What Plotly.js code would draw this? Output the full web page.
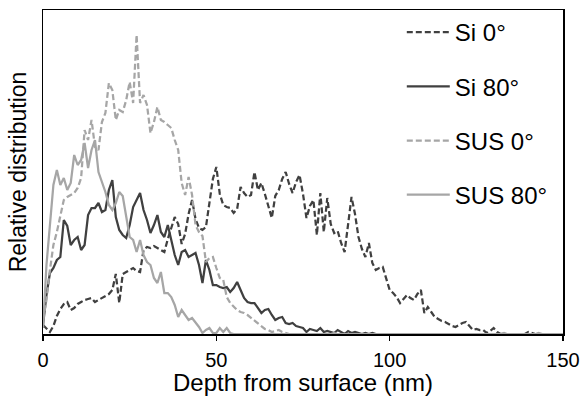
<!DOCTYPE html>
<html>
<head>
<meta charset="utf-8">
<script src="https://cdn.plot.ly/plotly-3.0.1.min.js"></script>
<style>html,body{margin:0;padding:0;background:#fff;}#chart{width:581px;height:396px;}</style>
</head>
<body>
<div id="chart"></div>
<script>
// Depth (nm), 1 nm steps
const depth = [];
for (let i = 0; i <= 150; i++) depth.push(i);

const seriesNames = ["Si 0°", "Si 80°", "SUS 0°", "SUS 80°"];

// Relative distribution (arbitrary units)
const si0 = [9,5,2,8,18,25,30,32,24,26,30,32,34,35,36,32,34,36,38,40,
  44,60,31,60,62,64,66,63,62,84,87,86,88,86,84,82,95,107,117,110,
  90,100,120,134,115,106,104,107,130,155,167,140,129,127,126,121,125,147,141,137,
  139,162,144,151,140,128,116,138,144,155,162,150,141,152,159,140,116,128,134,99,
  141,102,136,110,101,103,91,82,110,137,120,97,85,77,91,71,64,66,67,56,
  44,41,37,31,35,39,36,34,40,44,21,27,22,17,15,13,12,10,8,7,
  9,11,12,8,4,5,4,4,1,3,6,2,0,0,0,0,0,0,0,0,
  2,1,0,0,0,0,0,0,0,0,0];

const si80 = [9,39,61,66,74,77,114,108,89,94,97,84,89,119,126,126,131,122,124,144,
  154,117,104,99,96,109,127,134,141,124,114,101,109,119,102,97,109,94,79,69,
  82,84,77,79,81,69,51,74,64,49,49,47,46,47,42,46,52,44,36,32,
  31,31,26,21,24,25,19,14,16,17,11,10,11,8,7,6,2,5,4,3,
  6,2,3,2,1,4,2,0,3,1,2,1,0,1,0,1,0,0,0,0,
  0,0,0,0,0,0,0,0,0,0,0,0,0,0,0,0,0,0,0,0,
  0,0,0,0,0,0,0,0,0,0,0,0,0,0,0,0,0,0,0,0,
  0,0,0,0,0,0,0,0,0,0,0];

const sus0 = [14,34,64,89,102,119,134,137,139,141,146,156,204,194,214,187,184,212,221,251,
  244,214,224,222,234,252,231,299,231,239,229,201,212,227,214,212,209,206,194,184,
  151,139,157,139,109,102,98,72,76,77,66,56,54,37,31,27,24,22,21,19,
  16,13,11,8,5,4,2,3,4,2,1,0,0,0,0,0,0,0,0,0,
  0,0,0,0,1,0,0,0,0,0,0,0,0,0,0,0,0,0,0,0,
  0,0,0,0,0,0,0,0,0,0,0,0,0,0,0,0,0,0,0,0,
  0,0,0,0,0,0,0,0,0,0,0,0,0,1,0,0,0,0,0,0,
  0,0,0,1,0,0,0,0,0,0,0];

const sus80 = [6,69,109,149,164,149,156,144,151,179,169,174,191,166,184,194,162,152,142,129,
  124,131,142,138,116,97,94,82,94,79,72,69,56,51,62,41,41,37,29,17,
  24,19,14,16,12,7,1,4,6,1,1,6,2,6,1,0,0,0,0,0,
  0,0,0,0,0,0,0,0,0,0,0,0,0,0,0,0,0,0,0,0,
  0,0,0,0,0,0,0,0,0,0,0,0,0,0,0,0,0,0,0,0,
  0,0,0,0,0,0,0,0,0,0,0,0,0,0,0,0,0,0,0,0,
  0,0,0,0,0,0,0,0,0,0,0,0,0,0,0,0,0,0,0,0,
  0,0,0,0,0,0,0,0,0,0,0];

const xTicks = [0, 50, 100, 150];

const dark = "#404040", light = "#a6a6a6";
const styles = [
  {color: dark, dash: "6px,3px"},
  {color: dark, dash: "solid"},
  {color: light, dash: "6px,3px"},
  {color: light, dash: "solid"}
];
const ys = [si0, si80, sus0, sus80];

const traces = ys.map((y, i) => ({
  x: depth, y: y, type: "scatter", mode: "lines",
  name: seriesNames[i], legendgroup: "g" + i,
  line: {color: styles[i].color, width: 2.25, dash: styles[i].dash}
}));

const font = "Liberation Sans, Arial, sans-serif";
const layout = {
  width: 581, height: 396,
  margin: {l: 43, r: 18, t: 10, b: 62},
  paper_bgcolor: "#fff", plot_bgcolor: "#fff",
  font: {family: font, color: "#000", size: 20},
  showlegend: true,
  legend: {x: 0.69, y: 1, xanchor: "left", yanchor: "top",
    tracegroupgap: 20, traceorder: "grouped", itemwidth: 43,
    font: {family: font, size: 24, color: "#000"}, bgcolor: "rgba(0,0,0,0)"},
  xaxis: {range: [0, 150], tickvals: xTicks, ticktext: xTicks.map(String),
    ticks: "outside", ticklen: 5, tickwidth: 1.5, tickcolor: "#000",
    ticklabelstandoff: 2,
    showline: true, linecolor: "#000", linewidth: 1.5, mirror: true,
    showgrid: false, zeroline: false, layer: "below traces",
    tickfont: {size: 20},
    title: {text: "Depth from surface (nm)", font: {size: 24}, standoff: 4}},
  yaxis: {range: [0, 324], showticklabels: false, ticks: "",
    showline: true, linecolor: "#000", linewidth: 1.5, mirror: true,
    showgrid: false, zeroline: false, layer: "below traces",
    title: {text: "Relative distribution", font: {size: 23}, standoff: 8}}
};

Plotly.newPlot("chart", traces, layout, {displayModeBar: false, staticPlot: true});
</script>
</body>
</html>
